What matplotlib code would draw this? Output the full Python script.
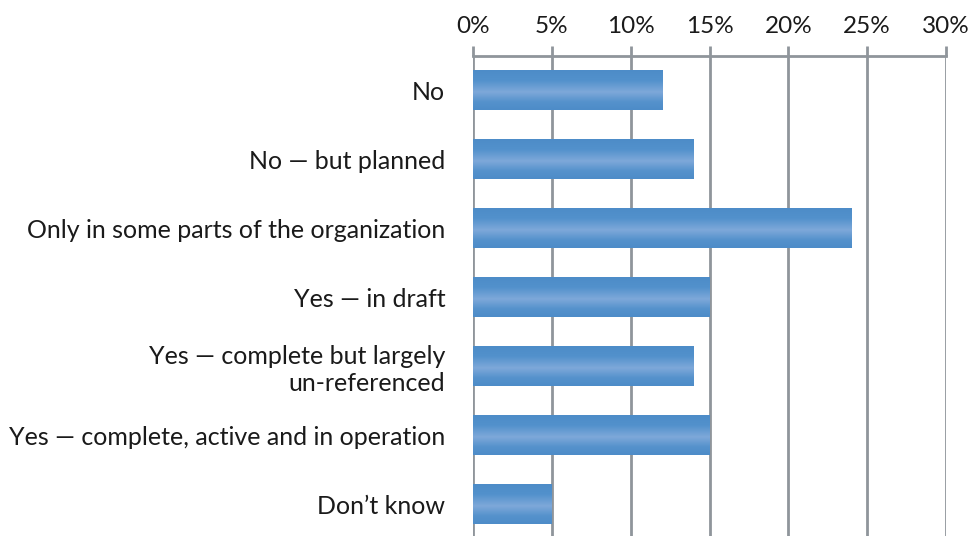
import numpy as np
import matplotlib.pyplot as plt
from matplotlib.colors import LinearSegmentedColormap

plt.rcParams['font.family'] = ['Lato', 'DejaVu Sans']

categories = ['No', 'No \u2014 but planned', 'Only in some parts of the organization',
              'Yes \u2014 in draft', 'Yes \u2014 complete but largely\nun-referenced',
              'Yes \u2014 complete, active and in operation', 'Don\u2019t know']
values = [12, 14, 24, 15, 14, 15, 5]
ticks = [0, 5, 10, 15, 20, 25, 30]

grid_col = '#8f959b'
# bar shading: dark edges, lighter band just below the middle
shade = LinearSegmentedColormap.from_list('shade', [
    (0.0, '#4d8cc8'), (0.25, '#5291cc'), (0.55, '#7ea8d9'), (0.8, '#5592cc'), (1.0, '#4d8cc8')])

fig = plt.figure(figsize=(9.72, 5.36), dpi=100)
ax = fig.add_axes([0.4866, -0.005, 0.4867, 0.9005])

y = np.arange(len(categories))
h = 0.58
bars = ax.barh(y, values, height=h, color='#5291cc', zorder=3)
grad = np.linspace(0, 1, 100).reshape(-1, 1)
for b in bars:
    x0, y0 = b.get_x(), b.get_y()
    ax.imshow(grad, cmap=shade, aspect='auto', zorder=4, origin='lower',
              extent=[x0, x0 + b.get_width(), y0, y0 + b.get_height()])

ax.set_xlim(0, 30)
ax.set_ylim(len(categories) - 0.5, -0.5)
ax.set_yticks(y)
ax.set_yticklabels(categories, fontsize=18, color='#1a1a1a', ha='right')
ax.tick_params(axis='y', length=0, pad=20)

ax.xaxis.tick_top()
ax.set_xticks(ticks)
ax.set_xticklabels([f'{t}%' for t in ticks], fontsize=17.5, color='#1a1a1a')
ax.tick_params(axis='x', length=7, width=2, color=grid_col, pad=7)
ax.grid(axis='x', color=grid_col, linewidth=2, zorder=1)

for s in ['left', 'right', 'bottom']:
    ax.spines[s].set_visible(False)
ax.spines['top'].set_color(grid_col)
ax.spines['top'].set_linewidth(2)

fig.savefig('out.png', dpi=100)
